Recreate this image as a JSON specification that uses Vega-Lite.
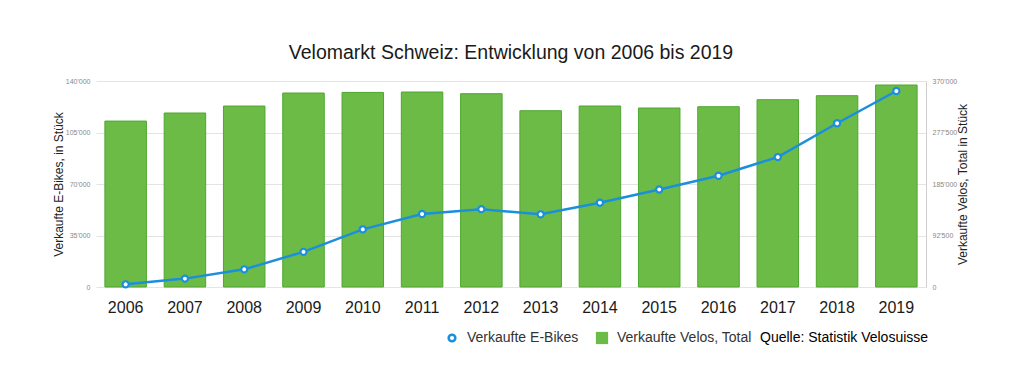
{
  "$schema": "https://vega.github.io/schema/vega-lite/v6.json",
  "width": 830,
  "height": 206,
  "autosize": {"type": "none"},
  "padding": {"left": 96, "top": 81, "right": 97, "bottom": 100},
  "background": "white",
  "title": {"text": "Velomarkt Schweiz: Entwicklung von 2006 bis 2019", "fontSize": 19.5, "font": "Liberation Sans", "fontWeight": "normal", "color": "#1a1a1a", "offset": 14, "anchor": "middle"},
  "config": {"view": {"stroke": null}, "font": "Liberation Sans"},
  "data": {"values": [
    {"year": "2006", "ebikes": 1800, "velos": 298000},
    {"year": "2007", "ebikes": 5700, "velos": 312500},
    {"year": "2008", "ebikes": 12000, "velos": 325000},
    {"year": "2009", "ebikes": 23900, "velos": 348400},
    {"year": "2010", "ebikes": 39200, "velos": 349500},
    {"year": "2011", "ebikes": 49600, "velos": 350200},
    {"year": "2012", "ebikes": 52900, "velos": 347200},
    {"year": "2013", "ebikes": 49400, "velos": 316600},
    {"year": "2014", "ebikes": 57300, "velos": 325100},
    {"year": "2015", "ebikes": 66300, "velos": 321500},
    {"year": "2016", "ebikes": 75600, "velos": 323800},
    {"year": "2017", "ebikes": 88300, "velos": 336400},
    {"year": "2018", "ebikes": 111300, "velos": 343600},
    {"year": "2019", "ebikes": 133200, "velos": 362800}
  ]},
  "encoding": {
    "x": {"field": "year", "type": "ordinal", "scale": {"paddingInner": 0.3, "paddingOuter": 0.15},
      "axis": {"title": null, "labelAngle": 0, "labelFontSize": 16, "labelColor": "#1a1a1a", "labelPadding": 12, "ticks": false, "domain": false}}
  },
  "layer": [
    {
      "mark": {"type": "bar", "stroke": "#4ea72e", "strokeWidth": 1},
      "encoding": {
        "y": {"field": "velos", "type": "quantitative", "scale": {"domain": [0, 370000], "nice": false},
          "axis": {"orient": "right", "title": "Verkaufte Velos, Total in Stück", "titleAngle": 270, "titleFontSize": 12, "titleFontWeight": "normal", "titleColor": "#222", "titlePadding": 13,
            "values": [0, 92500, 185000, 277500, 370000], "labelFontSize": 7, "labelColor": "#888", "labelPadding": 6, "ticks": false, "grid": false, "domainColor": "#d0d0d0",
            "labelExpr": "replace(format(datum.value, ','), ',', \"'\")"}},
        "color": {"datum": "Verkaufte Velos, Total", "type": "nominal",
          "scale": {"range": ["#6dbb47"]},
          "legend": {"orient": "none", "legendX": 499, "legendY": 250, "direction": "horizontal",
            "title": "Quelle: Statistik Velosuisse", "titleOrient": "right", "titleFontSize": 14, "titleFontWeight": "normal", "titleColor": "#000", "titlePadding": 8,
            "labelFontSize": 14, "labelColor": "#333", "labelOffset": 8,
            "symbolType": "square", "symbolSize": 150, "symbolStrokeWidth": 0, "symbolOpacity": 1}}
      }
    },
    {
      "mark": {"type": "line", "strokeWidth": 2.5},
      "encoding": {
        "y": {"field": "ebikes", "type": "quantitative", "scale": {"domain": [0, 140000], "nice": false},
          "axis": {"orient": "left", "title": "Verkaufte E-Bikes, in Stück", "titleFontSize": 12, "titleFontWeight": "normal", "titleColor": "#222", "titlePadding": 0,
            "values": [0, 35000, 70000, 105000, 140000], "labelFontSize": 7, "labelColor": "#888", "labelPadding": 6, "ticks": false, "domain": false, "grid": true, "gridColor": "#e4e4e4",
            "labelExpr": "replace(format(datum.value, ','), ',', \"'\")"}},
        "stroke": {"datum": "Verkaufte E-Bikes", "type": "nominal",
          "scale": {"range": ["#1a8fdd"]},
          "legend": {"orient": "none", "legendX": 349, "legendY": 250, "direction": "horizontal", "title": null,
            "labelFontSize": 14, "labelColor": "#333", "labelOffset": 8,
            "symbolType": "circle", "symbolSize": 45, "symbolStrokeWidth": 2.5, "symbolFillColor": "white", "symbolOpacity": 1}}
      }
    },
    {
      "mark": {"type": "point", "filled": true, "fill": "white", "stroke": "#1a8fdd", "strokeWidth": 2.2, "size": 38, "opacity": 1},
      "encoding": {
        "y": {"field": "ebikes", "type": "quantitative", "axis": null}
      }
    }
  ],
  "resolve": {"scale": {"y": "independent"}}
}
